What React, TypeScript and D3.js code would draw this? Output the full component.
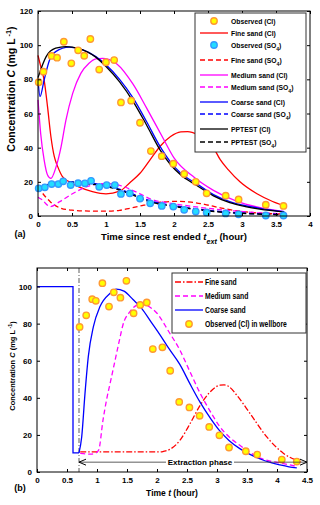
import React, { useEffect, useRef } from 'react';
import * as d3 from 'd3';

type P = [number, number];

// ---------- panel (a) ----------
const obsCl: P[] = [
  [0.01, 78.3], [0.08, 84.5], [0.2, 93.7], [0.28, 92.7], [0.38, 102], [0.49, 89.4], [0.59, 97],
  [0.68, 93.8], [0.77, 103.6], [0.9, 85.7], [1.0, 90], [1.12, 91.3], [1.22, 66.5], [1.37, 67.5],
  [1.5, 54.6], [1.66, 38], [1.82, 35], [1.99, 30.6], [2.15, 24.6], [2.32, 20], [2.48, 13.3],
  [2.76, 11.9], [2.95, 9.7], [3.35, 6.6], [3.61, 5.9],
];
const obsSO4: P[] = [
  [0.01, 16.2], [0.1, 16.8], [0.2, 18.7], [0.3, 18.7], [0.37, 20.3], [0.48, 18.1], [0.59, 19.2],
  [0.69, 19.1], [0.78, 20.6], [0.9, 17.1], [1.01, 18.1], [1.13, 18.1], [1.22, 12.9], [1.35, 13.3],
  [1.5, 10.2], [1.65, 7.4], [1.82, 5.9], [1.99, 5.5], [2.15, 3.6], [2.32, 2.6], [2.48, 2.1],
  [2.76, 1.5], [2.95, 1.0], [3.35, 0.3], [3.61, 0.3],
];
const fineCl: P[] = [
  [0, 94], [0.05, 86], [0.09, 79.6], [0.14, 64], [0.19, 46.4], [0.24, 34.7], [0.29, 28.9],
  [0.36, 23], [0.46, 20], [0.6, 17], [0.8, 14.3], [1.0, 13], [1.2, 14.5], [1.35, 19.5],
  [1.5, 25], [1.65, 33], [1.8, 41], [1.95, 46.5], [2.1, 49.2], [2.2, 49.4], [2.35, 47.5],
  [2.58, 40], [2.68, 33], [2.8, 27], [2.97, 20], [3.22, 13], [3.45, 8.5], [3.62, 6],
];
const mediumCl: P[] = [
  [0, 68], [0.04, 48], [0.09, 32.8], [0.14, 24], [0.19, 22], [0.26, 28], [0.34, 40.6],
  [0.41, 56], [0.51, 71.8], [0.63, 83.5], [0.75, 89.4], [0.85, 92], [0.95, 92.3], [1.05, 91.5],
  [1.16, 89], [1.4, 77], [1.6, 63], [1.82, 47], [2.0, 34], [2.3, 22.5], [2.58, 15],
  [2.9, 9], [3.25, 5], [3.62, 2.5],
];
const coarseCl: P[] = [
  [0, 80], [0.03, 70], [0.09, 79.6], [0.17, 91.3], [0.26, 96.2], [0.46, 98.8], [0.66, 97.2],
  [0.85, 93.3], [1.0, 88.5], [1.2, 80], [1.4, 69], [1.6, 55], [1.79, 41], [1.95, 31.5],
  [2.1, 25], [2.33, 19], [2.58, 12.5], [2.82, 8.4], [3.05, 6], [3.26, 4.5], [3.62, 2.5],
];
const pptestCl: P[] = [
  [0, 81], [0.12, 93.3], [0.26, 98.2], [0.41, 99.1], [0.6, 98], [0.85, 93], [1.0, 87.5],
  [1.2, 78.5], [1.4, 67], [1.6, 53], [1.79, 39], [1.95, 30], [2.1, 24], [2.33, 18],
  [2.58, 11.8], [2.82, 7.8], [3.05, 5.5], [3.26, 4], [3.62, 2.3],
];
const fineSO4: P[] = [
  [0, 17], [0.05, 14.2], [0.18, 8.4], [0.32, 4.8], [0.5, 3.4], [0.75, 2.9], [1.0, 2.8],
  [1.2, 3.3], [1.35, 4.5], [1.5, 5.8], [1.65, 7.2], [1.85, 8.2], [2.05, 8.6], [2.25, 8.1],
  [2.45, 6.8], [2.68, 4.8], [2.9, 3.2], [3.1, 2.2], [3.35, 1.5], [3.62, 1.1],
];
const mediumSO4: P[] = [
  [0, 11], [0.05, 9.8], [0.18, 5.5], [0.32, 8.4], [0.52, 13.3], [0.72, 17.2], [0.9, 18.8],
  [1.01, 19], [1.15, 18.5], [1.25, 17.3], [1.5, 13], [1.65, 10], [1.99, 7.2], [2.33, 5.3],
  [2.82, 3.2], [3.22, 2], [3.62, 1.3],
];
const coarseSO4: P[] = [
  [0, 17], [0.04, 16.4], [0.15, 18.5], [0.3, 19.8], [0.5, 20], [0.7, 19.5], [0.9, 18.4],
  [1.1, 16.8], [1.35, 13.5], [1.65, 8.8], [1.99, 6.1], [2.33, 4.1], [2.82, 2.1], [3.22, 1.3],
  [3.62, 0.8],
];
const pptestSO4: P[] = [
  [0, 16], [0.15, 18.3], [0.3, 19.5], [0.45, 19.7], [0.65, 19.2], [0.9, 18], [1.1, 16.4],
  [1.35, 13], [1.65, 8.3], [1.99, 5.7], [2.33, 3.8], [2.82, 1.9], [3.22, 1.2], [3.62, 0.7],
];
const xTicksA = [0, 0.5, 1, 1.5, 2, 2.5, 3, 3.5, 4];
const yTicksA = [0, 20, 40, 60, 80, 100, 120];

// ---------- panel (b) ----------
const obsWell: P[] = [
  [0.71, 78.2], [0.82, 84.5], [0.92, 93.2], [0.98, 92.3], [1.09, 101.8], [1.2, 89.2], [1.28, 96.9],
  [1.39, 94], [1.49, 103.1], [1.61, 85.6], [1.72, 90.1], [1.83, 91.4], [1.93, 66.3], [2.09, 67.2],
  [2.22, 54.6], [2.37, 37.8], [2.54, 34.8], [2.71, 30.3], [2.87, 24.3], [3.04, 19.8], [3.2, 13.2],
  [3.48, 11.2], [3.67, 9.4], [4.08, 6.7], [4.33, 5.6],
];
const coarseStep: P[] = [[0, 100], [0.6, 100], [0.6, 10.3], [0.7, 10.3]];
const coarseB: P[] = [
  [0.7, 10.3], [0.745, 18.9], [0.8, 42.4], [0.855, 62.2], [0.94, 78.4], [1.05, 89.2], [1.22, 96.4],
  [1.32, 98.6], [1.45, 97.5], [1.6, 93], [1.75, 88], [1.9, 81], [2.05, 74], [2.2, 66.5],
  [2.38, 58], [2.55, 47.5], [2.72, 37.5], [2.9, 28.5], [3.05, 22], [3.2, 17], [3.38, 12.6],
  [3.55, 9.5], [3.72, 7], [3.9, 5], [4.05, 3.8], [4.2, 2.8], [4.33, 2.2],
];
const mediumB: P[] = [
  [0.72, 10], [0.9, 9.6], [0.98, 10.2], [1.03, 12], [1.1, 28], [1.16, 39], [1.22, 48],
  [1.3, 60], [1.38, 72], [1.43, 79], [1.55, 86.5], [1.66, 90], [1.75, 91], [1.85, 89.5],
  [2.0, 85.6], [2.2, 75.5], [2.38, 65.8], [2.55, 54], [2.72, 42.4], [2.9, 32], [3.05, 24.3],
  [3.2, 19], [3.38, 14.4], [3.55, 10.5], [3.72, 7.5], [3.9, 5.8], [4.11, 4.5], [4.33, 3],
];
const fineB: P[] = [
  [0.72, 10.8], [1.2, 10.8], [1.7, 10.8], [2.05, 10.8], [2.12, 11.2], [2.22, 12.3], [2.38, 17],
  [2.55, 26], [2.72, 36], [2.88, 43], [3.05, 46.8], [3.12, 47], [3.2, 46], [3.33, 41.4],
  [3.55, 31.6], [3.83, 18.9], [4.11, 10], [4.4, 5.5],
];
const extractionStart = 0.7;
const extractionEnd = 4.5;
const extractionLevel = 5.3;
const xTicksB = [0, 0.5, 1, 1.5, 2, 2.5, 3, 3.5, 4, 4.5];
const yTicksB = [0, 20, 40, 60, 80, 100];

const FONT = "'Liberation Sans Narrow', 'Arial Narrow', 'Liberation Sans', Arial, sans-serif";
const RED = '#ff0000';
const MAG = '#ff00ff';
const BLUE = '#0000ff';

const App = () => {
  const ref = useRef<SVGSVGElement>(null);

  useEffect(() => {
    const svg = d3.select(ref.current);
    svg.selectAll('*').remove();

    const frame = (g: any, x: any, y: any, xt: number[], yt: number[]) => {
      const [x0, x1] = x.range();
      const [y0, y1] = y.range();
      const fmt = d3.format('~g');
      const style = (a: any) => {
        a.select('.domain').remove();
        a.selectAll('line').attr('stroke', '#000');
        a.selectAll('text').attr('font-family', FONT).attr('font-weight', 'bold').attr('font-size', 8).attr('fill', '#000');
      };
      g.append('g').attr('transform', `translate(0,${y0})`)
        .call(d3.axisBottom(x).tickValues(xt).tickFormat(fmt).tickSizeInner(-3).tickSizeOuter(0).tickPadding(5)).call(style);
      g.append('g').attr('transform', `translate(0,${y1})`)
        .call(d3.axisTop(x).tickValues(xt).tickFormat(() => '').tickSizeInner(-3).tickSizeOuter(0)).call(style);
      g.append('g').attr('transform', `translate(${x0},0)`)
        .call(d3.axisLeft(y).tickValues(yt).tickFormat(fmt).tickSizeInner(-3).tickSizeOuter(0).tickPadding(5)).call(style);
      g.append('g').attr('transform', `translate(${x1},0)`)
        .call(d3.axisRight(y).tickValues(yt).tickFormat(() => '').tickSizeInner(-3).tickSizeOuter(0)).call(style);
      g.append('rect').attr('x', x0).attr('y', y1).attr('width', x1 - x0).attr('height', y0 - y1)
        .attr('fill', 'none').attr('stroke', '#000').attr('stroke-width', 1);
    };

    const curve = (g: any, x: any, y: any, data: P[], color: string, dash: string | null, w = 1.3, smooth = true) => {
      const line = d3.line<P>().x(d => x(d[0])).y(d => y(d[1]))
        .curve(smooth ? d3.curveMonotoneX : d3.curveLinear);
      g.append('path').attr('d', line(data)).attr('fill', 'none').attr('stroke', color)
        .attr('stroke-width', w).attr('stroke-dasharray', dash);
    };

    const dots = (g: any, x: any, y: any, data: P[], fill: string, stroke: string) => {
      g.selectAll(null).data(data).enter().append('circle')
        .attr('cx', (d: P) => x(d[0])).attr('cy', (d: P) => y(d[1])).attr('r', 3.2)
        .attr('fill', fill).attr('stroke', stroke).attr('stroke-width', 1.4);
    };

    const label = (g: any, px: number, py: number, size: number, anchor = 'middle') =>
      g.append('text').attr('x', px).attr('y', py).attr('font-family', FONT).attr('font-weight', 'bold')
        .attr('font-size', size).attr('text-anchor', anchor).attr('fill', '#000');

    // condensed legend text, anchored at its start
    const narrow = (g: any, px: number, py: number, size: number, sx: number) =>
      g.append('text').attr('transform', `translate(${px},${py}) scale(${sx},1)`)
        .attr('font-family', FONT).attr('font-weight', 'bold').attr('font-size', size).attr('fill', '#000');

    const sub = (t: any, s: string) => t.append('tspan').attr('baseline-shift', 'sub').attr('font-size', '75%').text(s);

    // ===== panel (a) =====
    const xa = d3.scaleLinear().domain([0, 4]).range([38, 310]);
    const ya = d3.scaleLinear().domain([0, 120]).range([216, 11]);
    const ga = svg.append('g');

    curve(ga, xa, ya, fineCl, RED, null);
    curve(ga, xa, ya, mediumCl, MAG, null);
    curve(ga, xa, ya, coarseCl, BLUE, null);
    curve(ga, xa, ya, pptestCl, '#000', null);
    curve(ga, xa, ya, fineSO4, RED, '5,3');
    curve(ga, xa, ya, mediumSO4, MAG, '5,3');
    curve(ga, xa, ya, coarseSO4, BLUE, '5,3', 1.5);
    curve(ga, xa, ya, pptestSO4, '#000', '5,3', 1.5);
    dots(ga, xa, ya, obsCl, '#ffff00', '#ff9933');
    dots(ga, xa, ya, obsSO4, '#22ddff', '#3399ff');
    frame(ga, xa, ya, xTicksA, yTicksA);

    // legend (a)
    const la = ga.append('g');
    la.append('rect').attr('x', 195).attr('y', 13).attr('width', 111).attr('height', 139)
      .attr('fill', '#fff').attr('stroke', '#333').attr('stroke-width', 1);
    const legA = [
      { y: 21, kind: 'dot', fill: '#ffff00', stroke: '#ff9933', text: 'Observed (Cl)', s: '' },
      { y: 33, kind: 'line', color: RED, dash: null, text: 'Fine sand (Cl)', s: '' },
      { y: 45, kind: 'dot', fill: '#22ddff', stroke: '#3399ff', text: 'Observed (SO', s: '4' },
      { y: 60, kind: 'line', color: RED, dash: '5,3', text: 'Fine sand (SO', s: '4' },
      { y: 75, kind: 'line', color: MAG, dash: null, text: 'Medium sand (Cl)', s: '' },
      { y: 87, kind: 'line', color: MAG, dash: '5,3', text: 'Medium sand (SO', s: '4' },
      { y: 102, kind: 'line', color: BLUE, dash: null, text: 'Coarse sand (Cl)', s: '' },
      { y: 114, kind: 'line', color: BLUE, dash: '5,3', text: 'Coarse sand (SO', s: '4' },
      { y: 129, kind: 'line', color: '#000', dash: null, text: 'PPTEST (Cl)', s: '' },
      { y: 142, kind: 'line', color: '#000', dash: '5,3', text: 'PPTEST (SO', s: '4' },
    ];
    legA.forEach((e: any) => {
      if (e.kind === 'dot') {
        la.append('circle').attr('cx', 214).attr('cy', e.y).attr('r', 3.2)
          .attr('fill', e.fill).attr('stroke', e.stroke).attr('stroke-width', 1.4);
      } else {
        la.append('line').attr('x1', 200).attr('x2', 228).attr('y1', e.y).attr('y2', e.y)
          .attr('stroke', e.color).attr('stroke-width', 1.3).attr('stroke-dasharray', e.dash);
      }
      const t = narrow(la, 231, e.y + 3, 8, 0.85).text(e.text);
      if (e.s) {
        sub(t, e.s);
        t.append('tspan').text(')');
      }
    });

    // axis titles (a)
    const ta = label(ga, 174, 240, 9.5).text('Time since rest ended ');
    ta.append('tspan').attr('font-style', 'italic').text('t');
    ta.append('tspan').attr('font-style', 'italic').attr('baseline-shift', 'sub').attr('font-size', '75%').text('ext');
    ta.append('tspan').text(' (hour)');
    label(ga, 20, 237, 9).text('(a)');
    const ya1 = label(ga, 0, 0, 10.5).attr('transform', 'translate(15,89) rotate(-90)').text('Concentration ');
    ya1.append('tspan').attr('font-style', 'italic').text('C');
    ya1.append('tspan').text(' (mg L');
    ya1.append('tspan').attr('baseline-shift', 'super').attr('font-size', '70%').text(' -1');
    ya1.append('tspan').text(')');

    // ===== panel (b) =====
    const xb = d3.scaleLinear().domain([0, 4.5]).range([37, 307]);
    const yb = d3.scaleLinear().domain([0, 110]).range([472, 268]);
    const gb = svg.append('g');

    gb.append('line').attr('x1', xb(extractionStart)).attr('x2', xb(extractionStart))
      .attr('y1', yb(110)).attr('y2', yb(0)).attr('stroke', '#333').attr('stroke-width', 0.8)
      .attr('stroke-dasharray', '5,2,1,2');
    curve(gb, xb, yb, fineB, RED, '6,2,1.5,2');
    curve(gb, xb, yb, mediumB, MAG, '5,3');
    curve(gb, xb, yb, coarseStep, BLUE, null, 1.3, false);
    curve(gb, xb, yb, coarseB, BLUE, null);
    dots(gb, xb, yb, obsWell, '#ffff00', '#ff9933');

    // extraction phase arrow
    const ay = yb(extractionLevel);
    const ax0 = xb(extractionStart);
    const ax1 = xb(extractionEnd);
    gb.append('line').attr('x1', ax0).attr('x2', ax1).attr('y1', ay).attr('y2', ay)
      .attr('stroke', '#333').attr('stroke-width', 0.8);
    gb.append('path').attr('d', `M${ax0 + 7},${ay - 3}L${ax0},${ay}L${ax0 + 7},${ay + 3}`)
      .attr('fill', 'none').attr('stroke', '#000').attr('stroke-width', 1);
    gb.append('path').attr('d', `M${ax1 - 7},${ay - 3}L${ax1},${ay}L${ax1 - 7},${ay + 3}`)
      .attr('fill', 'none').attr('stroke', '#000').attr('stroke-width', 1);
    gb.append('rect').attr('x', 166).attr('y', ay - 5).attr('width', 68).attr('height', 9).attr('fill', '#fff');
    label(gb, 200, ay + 3, 8).text('Extraction phase');

    frame(gb, xb, yb, xTicksB, yTicksB);

    // legend (b)
    const lb = gb.append('g');
    lb.append('rect').attr('x', 172).attr('y', 273).attr('width', 134).attr('height', 60)
      .attr('fill', '#fff').attr('stroke', '#333').attr('stroke-width', 1);
    const legB = [
      { y: 282, color: RED, dash: '6,2,1.5,2', text: 'Fine sand' },
      { y: 296, color: MAG, dash: '5,3', text: 'Medium sand' },
      { y: 310, color: BLUE, dash: null, text: 'Coarse sand' },
    ];
    legB.forEach(e => {
      lb.append('line').attr('x1', 175).attr('x2', 203).attr('y1', e.y).attr('y2', e.y)
        .attr('stroke', e.color).attr('stroke-width', 1.3).attr('stroke-dasharray', e.dash);
      narrow(lb, 205, e.y + 3, 8.5, 0.8).text(e.text);
    });
    lb.append('circle').attr('cx', 189).attr('cy', 324).attr('r', 3.2)
      .attr('fill', '#ffff00').attr('stroke', '#ff9933').attr('stroke-width', 1.4);
    narrow(lb, 205, 327, 8.5, 0.8).text('Observed (Cl) in wellbore');

    // axis titles (b)
    const tb = label(gb, 172, 496, 8.5).text('Time ');
    tb.append('tspan').attr('font-style', 'italic').text('t');
    tb.append('tspan').text(' (hour)');
    label(gb, 20, 491, 9).text('(b)');
    const yb1 = label(gb, 0, 0, 7.5).attr('transform', 'translate(15,366) rotate(-90)').text('Concentration  ');
    yb1.append('tspan').attr('font-style', 'italic').text('C');
    yb1.append('tspan').text(' (mg L');
    yb1.append('tspan').attr('baseline-shift', 'super').attr('font-size', '70%').text(' -1');
    yb1.append('tspan').text(')');
  }, []);

  return <svg ref={ref} width={320} height={505} style={{ display: 'block', position: 'absolute', left: 0, top: 0, background: '#fff' }} />;
};

export default App;
